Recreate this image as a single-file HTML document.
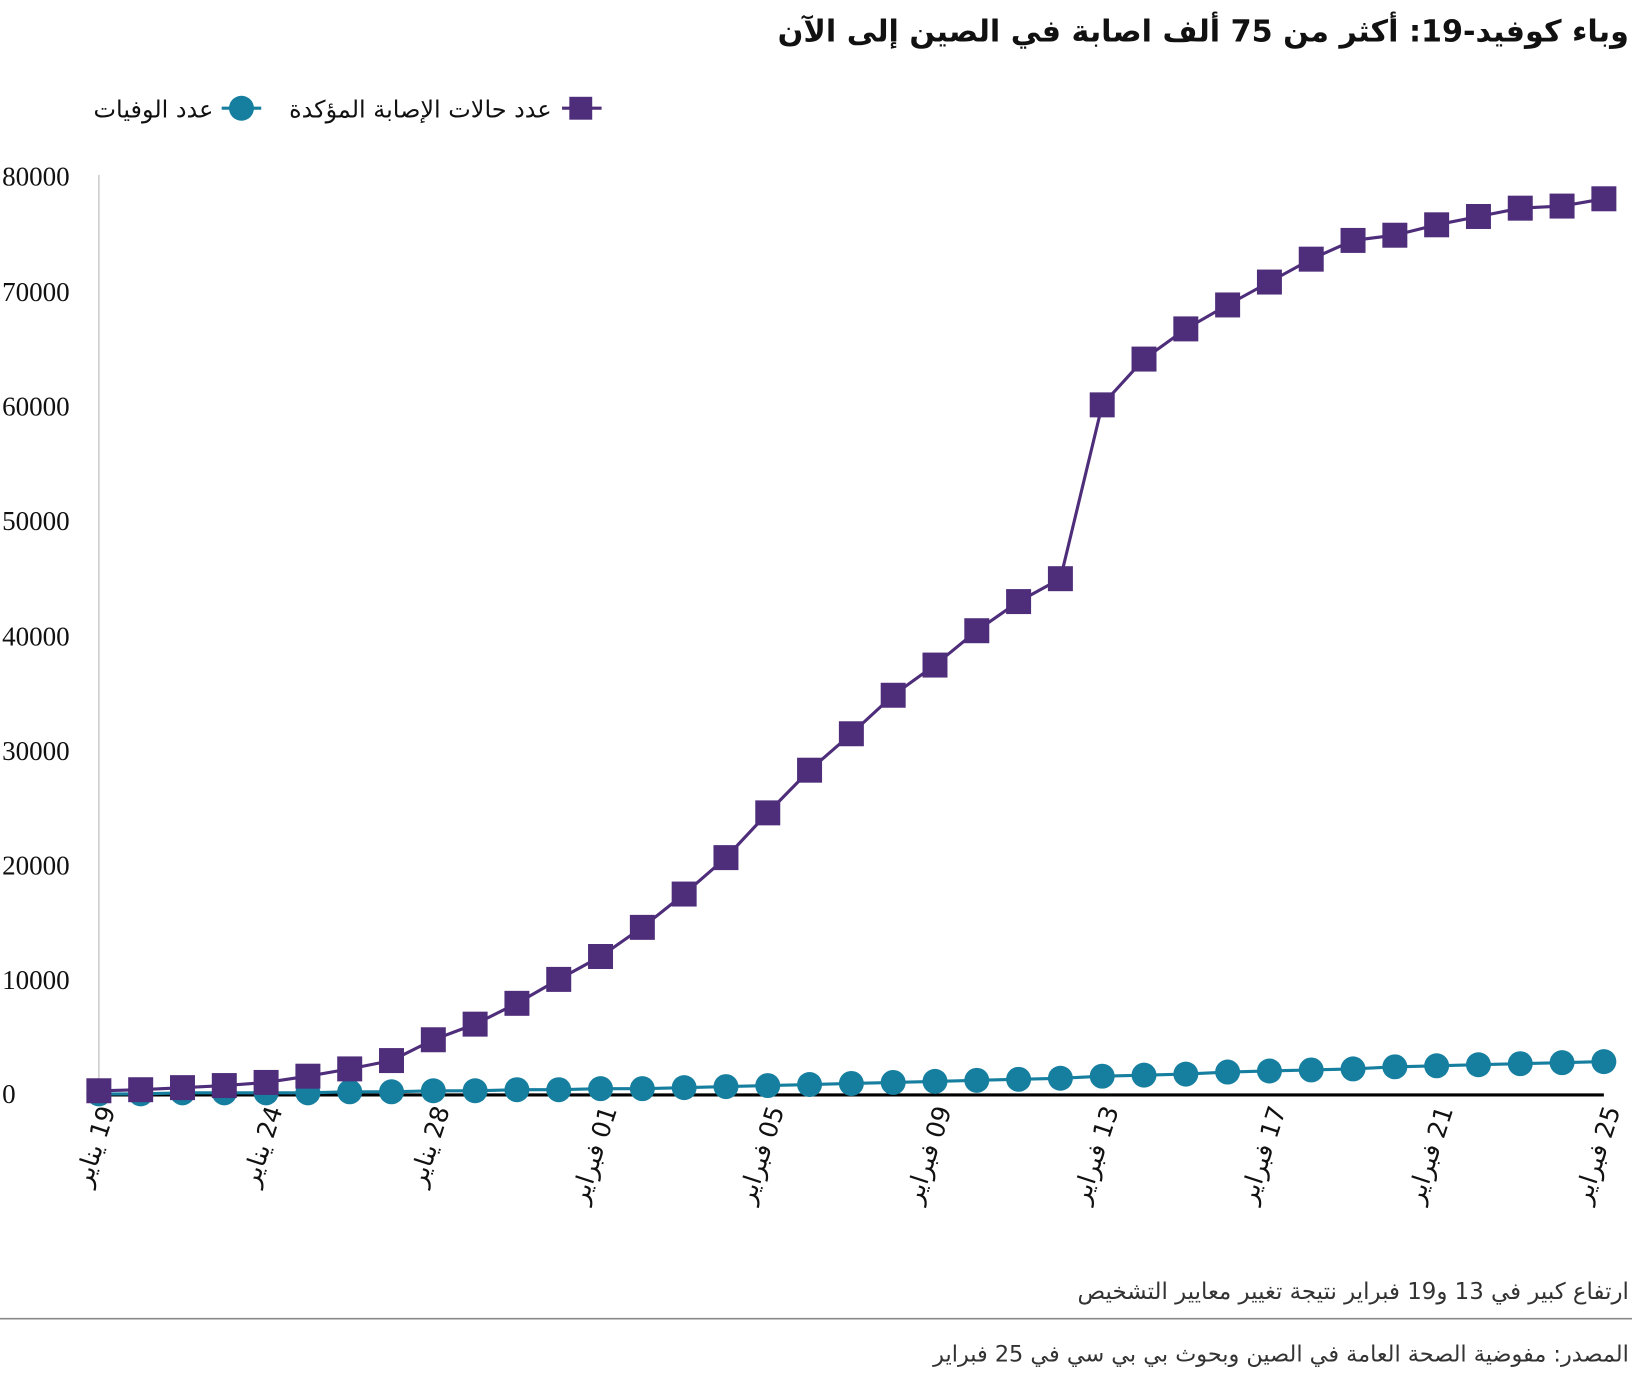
<!DOCTYPE html>
<html><head><meta charset="utf-8"><style>
html,body{margin:0;padding:0;background:#fff;}
body{width:1632px;height:1376px;overflow:hidden;position:relative;font-family:"Liberation Sans","Noto Sans CJK SC",sans-serif;}
</style></head><body>
<svg id="s" width="1632" height="1376" xmlns="http://www.w3.org/2000/svg" style="position:absolute;left:0;top:0">
<g transform="scale(1.0408)">
<text x="1565" y="40" direction="rtl" text-anchor="start" font-family="DejaVu Sans, sans-serif" font-weight="bold" font-size="29" fill="#111">وباء كوفيد-19: أكثر من 75 ألف اصابة في الصين إلى الآن</text>
<line x1="540" y1="104" x2="578" y2="104" stroke="#4e2d7a" stroke-width="3"/>
<rect x="547" y="93" width="22" height="22" fill="#4e2d7a"/>
<text x="530" y="113" direction="rtl" text-anchor="start" font-family="DejaVu Sans, sans-serif" font-size="23" fill="#111">عدد حالات الإصابة المؤكدة</text>
<line x1="213" y1="104" x2="251" y2="104" stroke="#167fa0" stroke-width="3"/>
<circle cx="232" cy="104" r="12" fill="#167fa0"/>
<text x="205" y="113" direction="rtl" text-anchor="start" font-family="DejaVu Sans, sans-serif" font-size="23" fill="#111">عدد الوفيات</text>
<line x1="95" y1="168" x2="95" y2="1052" stroke="#ccc" stroke-width="1.5"/>
<g id="g"></g>
<line x1="0" y1="1267" x2="1632" y2="1267" stroke="#888" stroke-width="1.5"/>
<text x="1565" y="1248" direction="rtl" text-anchor="start" font-family="DejaVu Sans, sans-serif" font-size="22" fill="#333">ارتفاع كبير في 13 و19 فبراير نتيجة تغيير معايير التشخيص</text>
<text x="1565" y="1308" direction="rtl" text-anchor="start" font-family="DejaVu Sans, sans-serif" font-size="21.5" fill="#333">المصدر: مفوضية الصحة العامة في الصين وبحوث بي بي سي في 25 فبراير</text>
</g>
</svg>
<script>
var NS="http://www.w3.org/2000/svg",g=document.getElementById('g');
function el(t,a,txt){var e=document.createElementNS(NS,t);for(var k in a)e.setAttribute(k,a[k]);if(txt)e.textContent=txt;g.appendChild(e);return e;}
var ticks=[[80000,170],[70000,281],[60000,391],[50000,501],[40000,612],[30000,722],[20000,832],[10000,942],[0,1052]];
ticks.forEach(function(t){el('text',{x:2,y:t[1]+8,'font-family':'Liberation Serif, serif','font-size':26,fill:'#111'},String(t[0]));});
el('line',{x1:95,y1:1052,x2:1541,y2:1052,stroke:'#000','stroke-width':3});
var sq=[1048,1047,1045,1043,1040,1034,1027,1019,999,984,964,941,919,891,859,824,781,740,705,668,639,606,578,556,389,345,316,293,271,249,231,226,216,208,200,198,191];
var ci=[1051,1051,1050,1050,1050,1050,1049,1049,1048,1048,1047,1047,1046,1046,1045,1044,1043,1042,1041,1040,1039,1038,1037,1036,1034,1033,1032,1030,1029,1028,1027,1025,1024,1023,1022,1021,1020];
var n=37,x0=95,x1=1541;function X(i){return x0+(x1-x0)*i/(n-1);}
var p='';ci.forEach(function(y,i){p+=(i?'L':'M')+X(i)+' '+y;});
el('path',{d:p,fill:'none',stroke:'#167fa0','stroke-width':3});
ci.forEach(function(y,i){el('circle',{cx:X(i),cy:y,r:12,fill:'#167fa0'});});
p='';sq.forEach(function(y,i){p+=(i?'L':'M')+X(i)+' '+y;});
el('path',{d:p,fill:'none',stroke:'#4e2d7a','stroke-width':3});
sq.forEach(function(y,i){el('rect',{x:X(i)-12,y:y-12,width:24,height:24,fill:'#4e2d7a'});});
var labs=['19 يناير','24 يناير','28 يناير','01 فبراير','05 فبراير','09 فبراير','13 فبراير','17 فبراير','21 فبراير','25 فبراير'];
labs.forEach(function(l,k){var x=X(k*4)+16,y=1066;
el('text',{x:x,y:y,direction:'rtl','text-anchor':'start','font-family':'DejaVu Sans, sans-serif','font-size':24,fill:'#111',transform:'rotate(-72 '+x+' '+y+')'},l);});
</script>
</body></html>
